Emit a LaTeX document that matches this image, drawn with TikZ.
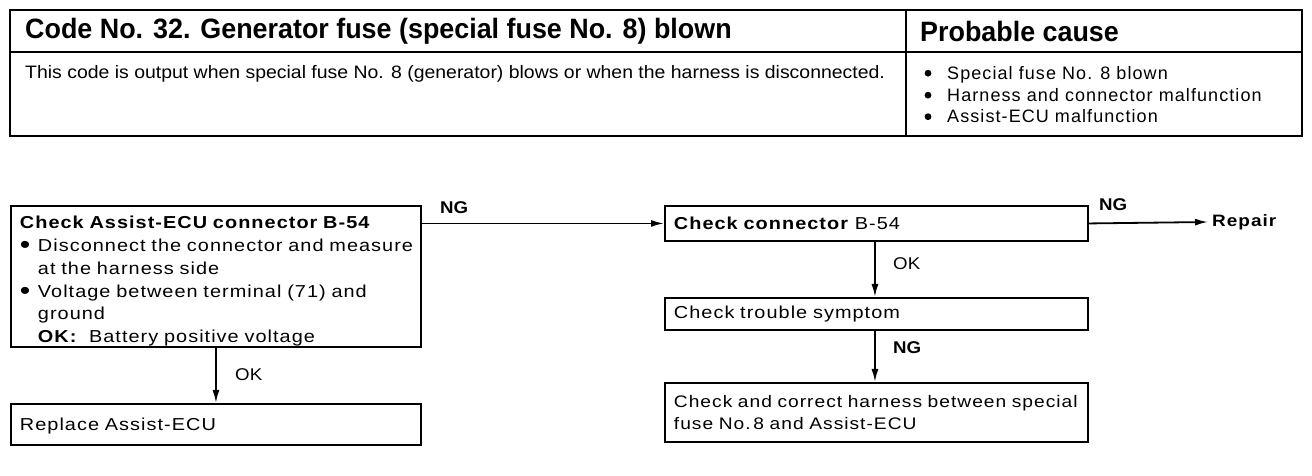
\documentclass[tikz,border=0pt]{standalone}
\usepackage{fontspec}
\setmainfont{Liberation Sans}
\newfontfamily\hdrfont[FakeStretch=0.96]{Liberation Sans}
\newfontfamily\descfont[FakeStretch=1.08]{Liberation Sans}
\newfontfamily\causefont[LetterSpace=6]{Liberation Sans}
\newfontfamily\flowfont[FakeStretch=1.15,LetterSpace=6,WordSpace=1.5]{Liberation Sans}
\newfontfamily\lblfont[FakeStretch=1.1]{Liberation Sans}
\usetikzlibrary{arrows.meta}
\newcommand{\bigbul}{\smash{\raisebox{-2.5pt}{\scalebox{1.5}{\textbullet}}}}
\newcommand{\bul}{\makebox[18pt][l]{\bigbul}}
\begin{document}
\begin{tikzpicture}[x=1pt,y=1pt,
  box/.style={draw, line width=1.9pt, rectangle, inner xsep=9pt, inner ysep=0pt, align=left, anchor=north west, font=\flowfont\fontsize{17.3}{22.8}\selectfont},
  lbl/.style={font=\lblfont\fontsize{17}{20}\selectfont, inner sep=0pt, anchor=west},
  nglbl/.style={lbl, font=\lblfont\bfseries\fontsize{17}{20}\selectfont},
  cause/.style={anchor=base west, inner sep=0pt, font=\causefont\fontsize{18}{21.5}\selectfont},
  arr/.style={line width=1.8pt, -{Latex[length=13pt,width=7pt]}},
  tline/.style={line width=1.6pt},
]
\useasboundingbox (0,0) rectangle (1312,476);
% table
\draw[line width=2.2pt] (10,466) rectangle (1302,340);
\draw[tline] (10,424) -- (1302,424);
\draw[tline] (906,466) -- (906,340);
\node[anchor=west, inner sep=0pt, font=\hdrfont\bfseries\fontsize{28}{32}\selectfont] (title) at (25,445) {Code No. 32. Generator fuse (special fuse No. 8) blown};
\node[anchor=west, inner sep=0pt, font=\hdrfont\bfseries\fontsize{28}{32}\selectfont] (pc) at (920,445) {Probable cause};
\node[anchor=base west, inner sep=0pt, font=\descfont\fontsize{18}{20}\selectfont] (desc) at (25,397) {This code is output when special fuse No. 8 (generator) blows or when the harness is disconnected.};
\node[cause] (c1) at (947,396.5) {Special fuse No. 8 blown};
\node[cause] (c2) at (947,374.5) {Harness and connector malfunction};
\node[cause] (c3) at (947,353) {Assist-ECU malfunction};
\foreach \c in {c1,c2,c3} \fill (\c.base west) ++(-19,6.3) circle (3.4);
% flow boxes
\node[box, text width=392pt, minimum height=141pt] (b1) at (10,271) {\rule{0pt}{22pt}\textbf{Check Assist-ECU connector B-54}\\
\bul Disconnect the connector and measure\\
\hspace*{18pt}at the harness side\\
\bul Voltage between terminal (71) and\\
\hspace*{18pt}ground\\
\hspace*{18pt}\textbf{OK:}\ \ Battery positive voltage};
\node[box, text width=392pt, minimum height=41pt] (b2) at (10,73) {\rule{0pt}{16pt}Replace Assist-ECU};
\node[box, text width=405pt, minimum height=35pt] (b3) at (664,271) {\textbf{Check connector} B-54};
\node[box, text width=405pt, minimum height=32pt] (b4) at (664,179) {Check trouble symptom};
\node[box, text width=405pt, minimum height=59pt, font=\flowfont\fontsize{16.7}{22}\selectfont] (b5) at (664,94) {Check and correct harness between special\\ fuse No.\,8 and Assist-ECU};
\node[anchor=west, inner xsep=4pt, inner ysep=0pt, font=\flowfont\bfseries\fontsize{16.5}{18}\selectfont] (rep) at (1208,254) {Repair};
% connectors
\draw[arr] (b1.east |- b3.west) -- (b3.west);
\draw[arr] (b3.east) -- (rep.west);
\draw[arr] (b1.south) -- (b2.north);
\draw[arr] ([xshift=-1.5pt]b3.south) -- ([xshift=-1.5pt]b4.north);
\draw[arr] ([xshift=-1.5pt]b4.south) -- ([xshift=-1.5pt]b5.north);
% labels
\node[nglbl] (ng1) at (440,268) {NG};
\node[nglbl] (ng2) at (1099,271) {NG};
\node[lbl] (ok1) at (235,101) {OK};
\node[lbl] (ok2) at (893,212) {OK};
\node[nglbl] (ng3) at (893,128) {NG};
\end{tikzpicture}
\end{document}
